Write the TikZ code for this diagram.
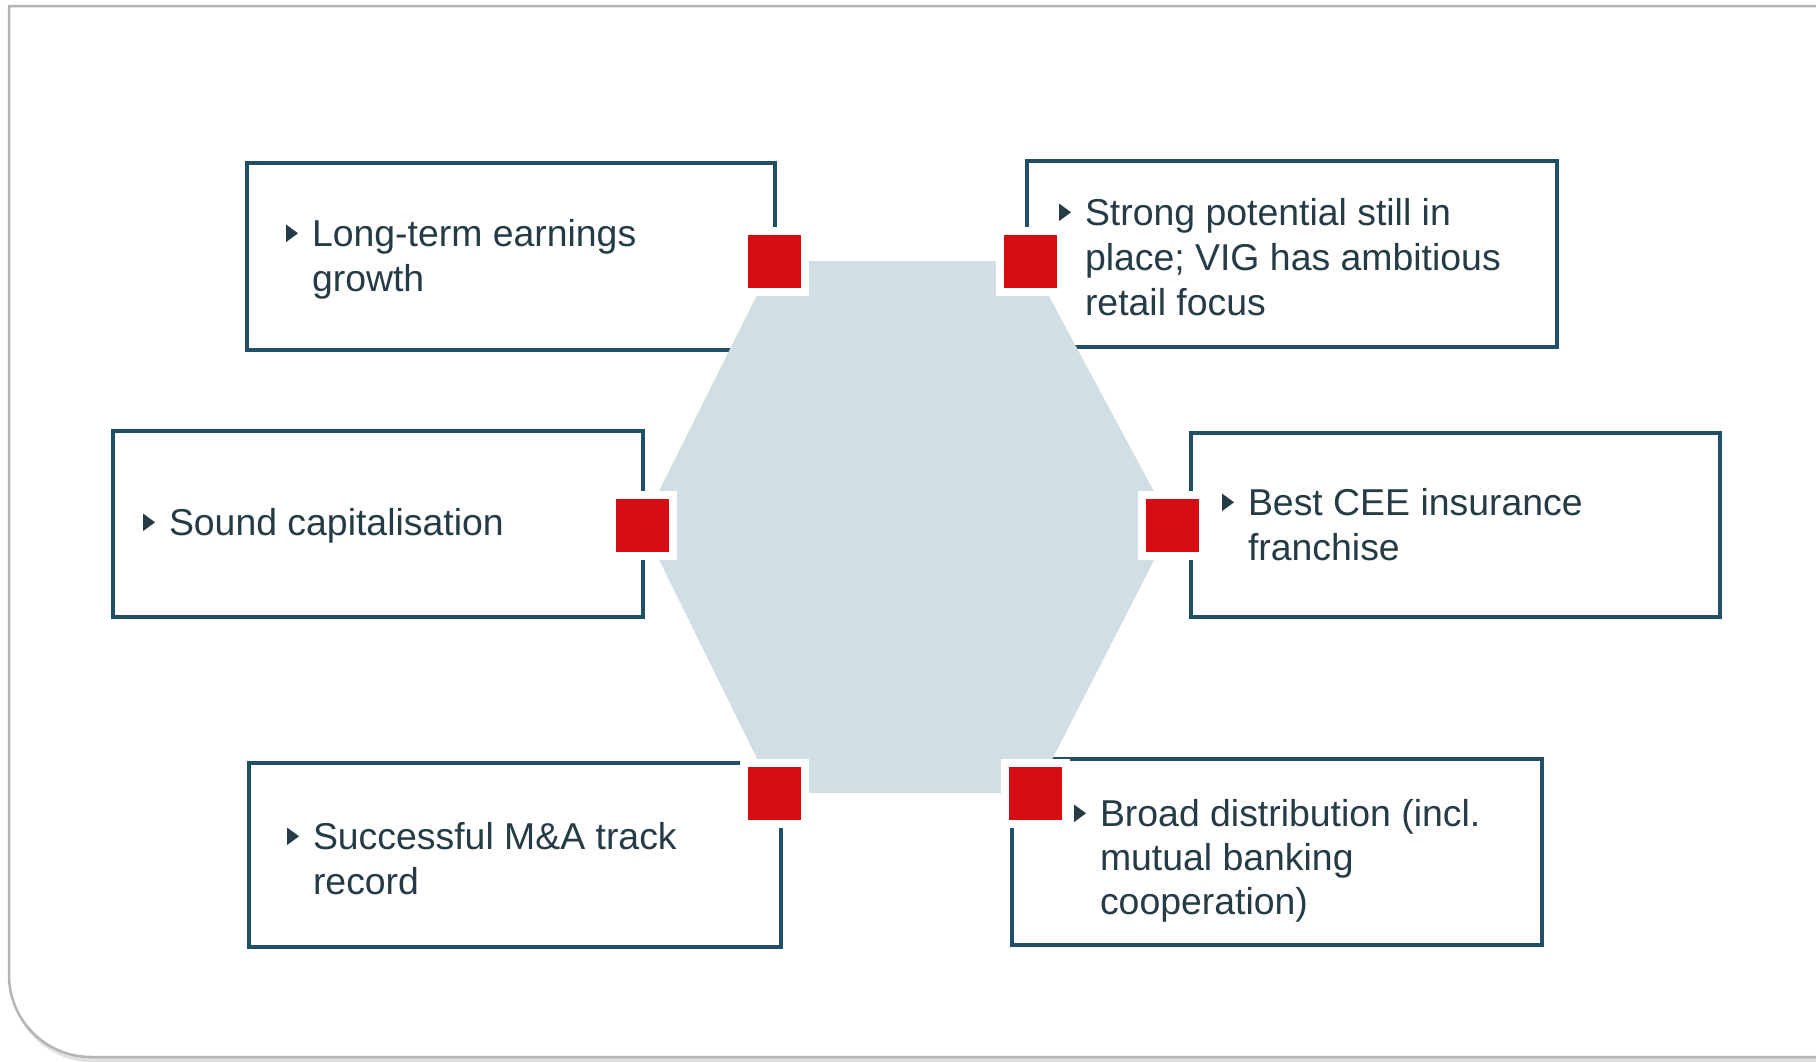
\documentclass[tikz,border=0pt]{standalone}
\usepackage{fontspec}
\setmainfont{Liberation Sans}
\definecolor{frameg}{HTML}{B5B5B5}
\definecolor{boxc}{HTML}{1F5068}
\definecolor{hexc}{HTML}{D1DEE4}
\definecolor{redc}{HTML}{D60E14}
\definecolor{txtc}{HTML}{253B45}
\newcommand\bulletat[1]{\fill[txtc] ([shift={(-26,-21.5)}]#1.base west) -- ++(12,8.8) -- ++(-12,8.8) -- cycle;}
\begin{document}
\begin{tikzpicture}[x=1pt,y=-1pt,
  box/.style={draw=boxc, line width=3.5pt, rectangle, inner sep=0pt, outer sep=0pt, anchor=north west},
  halo/.style={fill=white, rectangle, minimum size=69pt, inner sep=0pt, outer sep=0pt},
  marker/.style={fill=redc, rectangle, minimum size=53pt, inner sep=0pt, outer sep=0pt},
  lbl/.style={anchor=base west, inner sep=0pt, outer sep=0pt, text=txtc, font=\fontsize{37.4}{45}\selectfont}
]
\useasboundingbox (0,0) rectangle (1816,1061);
\fill[white] (0,0) rectangle (1816,1061);

% outer frame with soft shadow
\draw[black!12, line width=5pt] (1830,10) -- (12,10) -- (12,500) [rounded corners=82pt] -- (12,1060) -- (1830,1060);
\fill[white] (9,6) -- (9,500) [rounded corners=82pt] -- (9,1057) -- (1830,1057) [sharp corners] -- (1830,6) -- cycle;
\draw[frameg, line width=2.5pt] (1830,6) -- (9,6) -- (9,500) [rounded corners=82pt] -- (9,1057) -- (1830,1057);

% boxes
\node[box, minimum width=528pt, minimum height=187pt] (b1) at (247,163) {};
\node[box, minimum width=530pt, minimum height=186pt] (b2) at (1027,161) {};
\node[box, minimum width=530pt, minimum height=186pt] (b3) at (113,431) {};
\node[box, minimum width=529pt, minimum height=184pt] (b4) at (1191,433) {};
\node[box, minimum width=532pt, minimum height=184pt] (b5) at (249,763) {};
\node[box, minimum width=530pt, minimum height=186pt] (b6) at (1012,759) {};

% hexagon
\coordinate (vTL) at (774,261);
\coordinate (vTR) at (1030,261);
\coordinate (vR)  at (1172,525);
\coordinate (vBR) at (1035,793);
\coordinate (vBL) at (774,793);
\coordinate (vL)  at (642,525);
\fill[hexc] (vTL) -- (vTR) -- (vR) -- (vBR) -- (vBL) -- (vL) -- cycle;

% markers
\foreach \v/\n in {vTL/mTL, vTR/mTR, vR/mR, vBR/mBR, vBL/mBL, vL/mL}{
  \node[halo] (h\n) at (\v) {};
  \node[marker] (\n) at (\v) {};
}

% texts
\node[lbl] (t1) at (312,246) {\parbox[t]{430pt}{\raggedright Long-term earnings\\growth}};
\node[lbl] (t2) at (1085,225) {\parbox[t]{450pt}{\raggedright Strong potential still in\\place; VIG has ambitious\\retail focus}};
\node[lbl] (t3) at (169,535) {\parbox[t]{450pt}{\raggedright Sound capitalisation}};
\node[lbl] (t4) at (1248,515) {\parbox[t]{450pt}{\raggedright Best CEE insurance\\franchise}};
\node[lbl] (t5) at (313,849) {\parbox[t]{450pt}{\raggedright Successful M\&A track\\record}};
\node[lbl, font=\fontsize{37.4}{44}\selectfont] (t6) at (1100,826) {\parbox[t]{430pt}{\raggedright Broad distribution (incl.\\mutual banking\\cooperation)}};

\bulletat{t1}
\bulletat{t2}
\bulletat{t3}
\bulletat{t4}
\bulletat{t5}
\bulletat{t6}
\end{tikzpicture}
\end{document}
